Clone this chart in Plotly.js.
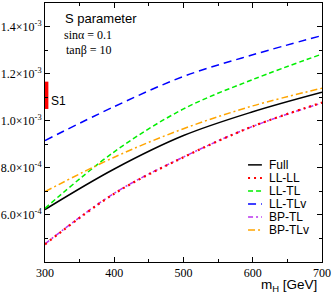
<!DOCTYPE html>
<html><head><meta charset="utf-8">
<script src="https://cdn.plot.ly/plotly-3.0.1.min.js"></script>
<style>html,body{margin:0;padding:0;background:#fff}#chart{width:332px;height:299px}</style>
</head><body><div id="chart"></div>
<script>
const mH = [300, 400, 500, 600, 700];
const full  = [6.23e-4, 7.95e-4, 9.37e-4, 1.038e-3, 1.121e-3];
const llll  = [4.75e-4, 6.90e-4, 8.45e-4, 9.76e-4, 1.077e-3];
const lltl  = [6.28e-4, 8.68e-4, 1.050e-3, 1.175e-3, 1.283e-3];
const lltlv = [9.16e-4, 1.060e-3, 1.188e-3, 1.280e-3, 1.362e-3];
const bptl  = [4.77e-4, 6.92e-4, 8.46e-4, 9.76e-4, 1.075e-3];
const bptlv = [6.99e-4, 8.45e-4, 9.66e-4, 1.063e-3, 1.138e-3];
const seriesNames = ["Full", "LL-LL", "LL-TL", "LL-TLv", "BP-TL", "BP-TLv"];
const s1X = [302, 302];
const s1Y = [1.050e-3, 1.166e-3];
const xTicks = [300, 400, 500, 600, 700];
const yTicks = [6e-4, 8e-4, 1.0e-3, 1.2e-3, 1.4e-3];
const yTickText = ["6.0×10<sup>-4</sup>", "8.0×10<sup>-4</sup>", "1.0×10<sup>-3</sup>", "1.2×10<sup>-3</sup>", "1.4×10<sup>-3</sup>"];
const xMinor = [350, 450, 550, 650];
const yMinor = [5e-4, 7e-4, 9e-4, 1.1e-3, 1.3e-3];

const styles = [
  {color: "#000000", dash: "solid", width: 1.5},
  {color: "#ff0000", dash: "2px,4px", width: 2.2},
  {color: "#00ee00", dash: "5px,3px", width: 1.5},
  {color: "#0000ff", dash: "8px,5px", width: 1.5},
  {color: "#bb33ee", dash: "5px,3px,2px,3px", width: 1.5},
  {color: "#ffa500", dash: "7px,3px,2px,3px", width: 1.5}
];
const ys = [full, llll, lltl, lltlv, bptl, bptlv];
const order = [4, 0, 2, 3, 5, 1];
const traces = order.map(i => ({
  x: mH, y: ys[i], name: seriesNames[i], type: "scatter", mode: "lines", showlegend: false,
  line: {color: styles[i].color, dash: styles[i].dash, width: styles[i].width, shape: "spline", smoothing: 1},
  hoverinfo: "skip"
}));
traces.push({x: s1X, y: s1Y, type: "scatter", mode: "lines", showlegend: false,
  line: {color: "#ff0000", width: 4}, hoverinfo: "skip"});

// custom compact legend (paper coordinates)
const legX0 = 0.733, legX1 = 0.783, legTextX = 0.805, legY0 = 0.375, legStep = 0.0502;
const legendShapes = seriesNames.map((n, i) => ({
  type: "line", xref: "paper", yref: "paper",
  x0: legX0, x1: legX1, y0: legY0 - i * legStep, y1: legY0 - i * legStep,
  line: {color: styles[i].color, dash: styles[i].dash, width: Math.min(styles[i].width, 2)}
}));
const legendAnn = seriesNames.map((n, i) => ({
  xref: "paper", yref: "paper", x: legTextX, y: legY0 - i * legStep, xanchor: "left", yanchor: "middle",
  showarrow: false, borderpad: 0, text: n, font: {family: "Liberation Sans, Arial, sans-serif", size: 12, color: "#000"}
}));

const axisCommon = {
  showgrid: false, zeroline: false, showline: true, linecolor: "#000", linewidth: 1,
  mirror: "allticks", ticks: "inside", ticklen: 5, tickcolor: "#000", tickwidth: 1,
  tickfont: {family: "Liberation Serif, serif", size: 12, color: "#000"}
};
const layout = {
  width: 332, height: 299,
  margin: {l: 45, r: 10, t: 3, b: 37},
  paper_bgcolor: "#fff", plot_bgcolor: "#fff",
  showlegend: false,
  shapes: legendShapes,
  xaxis: Object.assign({}, axisCommon, {range: [300, 700], tickmode: "array", tickvals: xTicks,
    minor: {tickmode: "array", tickvals: xMinor, ticks: "inside", ticklen: 3, tickcolor: "#000"}}),
  yaxis: Object.assign({}, axisCommon, {range: [4e-4, 1.5e-3], tickmode: "array", tickvals: yTicks, ticktext: yTickText,
    minor: {tickmode: "array", tickvals: yMinor, ticks: "inside", ticklen: 3, tickcolor: "#000"}}),
  annotations: [
    {xref: "paper", yref: "paper", x: 0.065, y: 0.94, xanchor: "left", yanchor: "middle", showarrow: false,
     text: "S parameter", font: {family: "Liberation Sans, Arial, sans-serif", size: 13, color: "#000"}},
    {xref: "paper", yref: "paper", x: 0.062, y: 0.878, xanchor: "left", yanchor: "middle", showarrow: false,
     text: "sinα = 0.1", font: {family: "Liberation Serif, serif", size: 12, color: "#000"}},
    {xref: "paper", yref: "paper", x: 0.068, y: 0.82, xanchor: "left", yanchor: "middle", showarrow: false,
     text: "tanβ = 10", font: {family: "Liberation Serif, serif", size: 12, color: "#000"}},
    {xref: "x", yref: "y", x: 306, y: 1.085e-3, xanchor: "left", yanchor: "middle", showarrow: false,
     text: "S1", font: {family: "Liberation Sans, Arial, sans-serif", size: 12, color: "#000"}},
    {xref: "paper", yref: "paper", x: 0.99, y: -0.089, xanchor: "right", yanchor: "middle", showarrow: false,
     text: "m<sub>H</sub> [GeV]", font: {family: "Liberation Sans, Arial, sans-serif", size: 13.5, color: "#000"}}
  ].concat(legendAnn)
};
Plotly.newPlot("chart", traces, layout, {staticPlot: true, displayModeBar: false});
</script></body></html>
